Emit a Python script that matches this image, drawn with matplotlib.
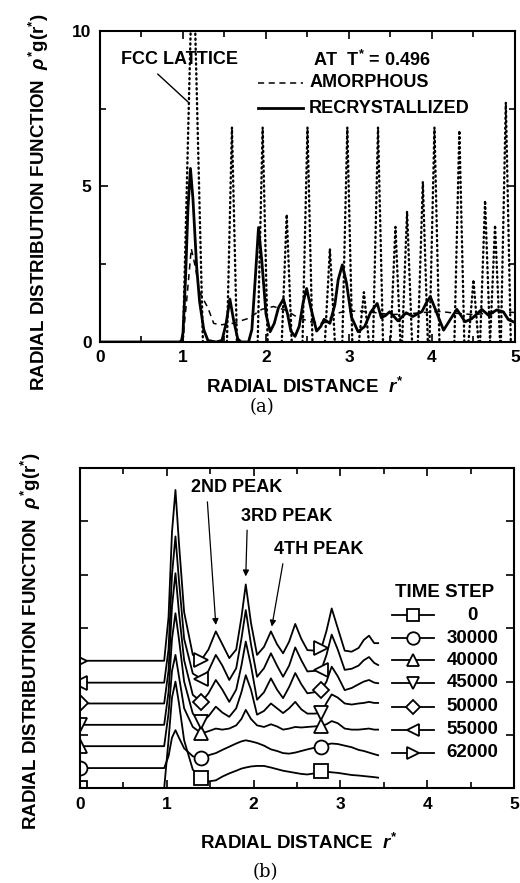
import numpy as np
import matplotlib
matplotlib.use("Agg")
import matplotlib.pyplot as plt

plt.rcParams["font.family"] = ["Liberation Sans", "DejaVu Sans"]
plt.rcParams["font.weight"] = "bold"
plt.rcParams["mathtext.fontset"] = "custom"
plt.rcParams["mathtext.rm"] = "Liberation Sans:bold"
plt.rcParams["mathtext.it"] = "Liberation Sans:italic:bold"
plt.rcParams["mathtext.bf"] = "Liberation Sans:bold"

# ---- panel (a) data ----
# FCC lattice peaks: centre, height, half width
fcc_r = [1.12, 1.59, 1.96, 2.25, 2.50, 2.77, 2.98, 3.18, 3.35, 3.56,
         3.70, 3.89, 4.03, 4.33, 4.50, 4.64, 4.76, 4.89]
fcc_h = [13.0, 6.9, 6.9, 4.1, 6.9, 3.0, 6.9, 1.6, 6.9, 3.7,
         4.2, 5.15, 6.9, 6.8, 2.0, 4.55, 3.76, 7.7]
fcc_hw = [0.12] + [0.06] * 17

amor_r = [0.95, 1.0, 1.05, 1.1, 1.15, 1.2, 1.3, 1.37, 1.45, 1.6, 1.79,
          1.95, 2.09, 2.23, 2.37, 2.53, 2.69, 2.85, 2.93, 3.1, 3.3, 3.5,
          3.7, 3.9, 4.1, 4.3, 4.5, 4.7, 4.9, 5.0]
amor_g = [0.0, 0.1, 1.5, 3.0, 2.4, 1.6, 1.1, 0.6, 0.55, 0.6, 0.76,
          1.05, 1.14, 1.03, 0.81, 0.65, 0.6, 0.92, 0.97, 1.0, 0.95, 0.88,
          0.9, 0.95, 0.98, 0.92, 0.88, 0.93, 0.96, 0.95]

rec_r = [0, 0.98, 1.0, 1.03, 1.06, 1.09, 1.12, 1.165, 1.2, 1.25, 1.3, 1.4,
         1.47, 1.52, 1.565, 1.61, 1.66, 1.7, 1.79, 1.83, 1.87, 1.91, 1.95,
         2.0, 2.05, 2.1, 2.15, 2.21, 2.26, 2.3, 2.35, 2.4, 2.45, 2.49, 2.54,
         2.61, 2.66, 2.7, 2.77, 2.83, 2.87, 2.92, 2.97, 3.03, 3.11, 3.19,
         3.26, 3.34, 3.39, 3.44, 3.49, 3.59, 3.69, 3.77, 3.88, 3.93, 3.98,
         4.06, 4.14, 4.22, 4.3, 4.4, 4.48, 4.6, 4.68, 4.78, 4.86, 4.92, 4.98]
rec_g = [0, 0, 0.3, 2.0, 4.3, 5.58, 4.6, 2.4, 1.3, 0.4, 0.05, 0.0,
         0.05, 0.6, 1.38, 0.7, 0.1, 0.0, 0.0, 0.4, 2.0, 3.68, 2.6,
         0.9, 0.33, 0.6, 1.1, 1.38, 0.9, 0.35, 0.18, 0.5, 1.3, 1.72, 1.1,
         0.35, 0.5, 0.73, 0.6, 1.2, 2.0, 2.48, 1.9, 0.8, 0.33, 0.5,
         0.95, 1.24, 0.78, 0.85, 0.97, 0.68, 0.94, 0.82, 0.98, 1.25, 1.46,
         0.92, 0.38, 0.72, 1.05, 0.65, 0.75, 1.05, 0.86, 1.03, 0.97, 0.72, 0.65]

# ---- panel (b) data ----
time_steps = ["0", "30000", "40000", "45000", "50000", "55000", "62000"]
step_markers = ["s", "o", "^", "v", "D", "<", ">"]
marker_r = [0, 1.4, 2.78]

rb = [0, 0.97, 1.02, 1.06, 1.1, 1.14, 1.2, 1.3, 1.4, 1.48, 1.565, 1.64,
      1.72, 1.8, 1.86, 1.91, 1.97, 2.04, 2.12, 2.2, 2.27, 2.34, 2.41, 2.48,
      2.55, 2.62, 2.7, 2.78, 2.84, 2.9, 2.97, 3.05, 3.13, 3.21, 3.27, 3.33,
      3.39, 3.435]
g_0 = [0, 0, 0.9, 1.7, 2.0, 1.6, 0.9, 0.35, 0.19, 0.13, 0.15, 0.22,
       0.28, 0.33, 0.37, 0.39, 0.41, 0.42, 0.42, 0.39, 0.36, 0.33, 0.31, 0.29,
       0.27, 0.26, 0.28, 0.32, 0.31, 0.3, 0.29, 0.27, 0.25, 0.24, 0.23, 0.22,
       0.21, 0.2]
g_30000 = [0.38, 0.38, 0.6, 0.95, 1.09, 0.95, 0.75, 0.6, 0.56, 0.62, 0.66, 0.72,
           0.78, 0.84, 0.88, 0.9, 0.88, 0.85, 0.8, 0.73, 0.7, 0.66, 0.65, 0.67,
           0.7, 0.73, 0.76, 0.78, 0.82, 0.84, 0.83, 0.8, 0.77, 0.72, 0.7, 0.67,
           0.64, 0.62]
g_40000 = [0.79, 0.79, 1.4, 2.2, 2.5, 2.1, 1.5, 1.15, 1.03, 1.07, 1.12, 1.1,
           1.12, 1.18, 1.3, 1.47, 1.3, 1.18, 1.15, 1.2, 1.16, 1.1, 1.12, 1.15,
           1.14, 1.15, 1.16, 1.17, 1.2, 1.26, 1.22, 1.12, 1.1, 1.1, 1.11, 1.12,
           1.1, 1.1]
g_45000 = [1.19, 1.19, 1.8, 2.8, 3.28, 2.8, 2.0, 1.4, 1.25, 1.35, 1.53, 1.42,
           1.34, 1.5, 1.8, 2.12, 1.85, 1.38, 1.45, 1.59, 1.5, 1.41, 1.5, 1.62,
           1.48, 1.4, 1.4, 1.41, 1.6, 1.76, 1.7, 1.59, 1.57, 1.59, 1.6, 1.62,
           1.6, 1.6]
g_50000 = [1.59, 1.59, 2.2, 3.4, 4.03, 3.3, 2.4, 1.75, 1.62, 1.78, 2.03, 1.85,
           1.62, 1.85, 2.3, 2.75, 2.3, 1.66, 1.8, 2.06, 1.85, 1.69, 1.9, 2.16,
           1.95, 1.78, 1.8, 1.84, 2.0, 2.28, 2.1, 1.84, 1.88, 1.95, 2.0, 2.03,
           1.98, 1.97]
g_55000 = [1.98, 1.98, 2.6, 4.0, 4.72, 3.9, 2.8, 2.15, 2.05, 2.2, 2.5, 2.3,
           2.03, 2.25, 2.8, 3.34, 2.7, 2.09, 2.25, 2.53, 2.3, 2.09, 2.3, 2.64,
           2.4, 2.19, 2.2, 2.22, 2.5, 2.88, 2.6, 2.22, 2.24, 2.3, 2.4, 2.46,
           2.35, 2.31]
g_62000 = [2.39, 2.39, 3.2, 4.8, 5.59, 4.6, 3.3, 2.5, 2.41, 2.6, 2.94, 2.7,
           2.44, 2.6, 3.2, 3.82, 3.1, 2.5, 2.65, 2.94, 2.7, 2.53, 2.75, 3.08,
           2.8, 2.59, 2.58, 2.62, 2.95, 3.37, 3.0, 2.58, 2.56, 2.63, 2.78, 2.86,
           2.72, 2.72]
curves_b = [g_0, g_30000, g_40000, g_45000, g_50000, g_55000, g_62000]

fig = plt.figure(figsize=(5.2, 8.83), dpi=100)

# ================= panel (a) =================
ax1 = fig.add_axes([0.1923, 0.6127, 0.798, 0.3522])

for c, h, hw in zip(fcc_r, fcc_h, fcc_hw):
    ax1.plot([c - hw, c, c + hw], [0, h, 0], color="k", lw=1.7,
             linestyle=(0, (0.5, 1.6)), dash_capstyle="round")

ax1.plot(amor_r, amor_g, color="k", lw=1.1, linestyle=(0, (4, 3)))
ax1.plot(rec_r, rec_g, color="k", lw=2.0)

ax1.set_xlim(0, 5)
ax1.set_ylim(0, 10)
ax1.set_xticks(range(6))
ax1.set_xticks(np.arange(0.5, 5, 1.0), minor=True)
ax1.set_yticks([0, 5, 10])
ax1.set_yticks([2.5, 7.5], minor=True)
ax1.tick_params(which="both", direction="in", top=True, right=True,
                labelsize=12.5, width=1.2)
ax1.tick_params(which="major", length=6, pad=6)
ax1.tick_params(which="minor", length=4)
for s in ax1.spines.values():
    s.set_linewidth(1.5)

ax1.annotate("FCC LATTICE", xy=(1.06, 7.72), xytext=(0.96, 9.07),
             ha="center", va="center", fontsize=13,
             arrowprops=dict(arrowstyle="-", color="k", lw=1.0,
                             relpos=(0.26, 0.0), shrinkA=3, shrinkB=0))
ax1.text(3.27, 9.07, "AT  T$^{*}$ = 0.496", ha="center", va="center",
         fontsize=13)
ax1.plot([1.9, 2.45], [8.33, 8.33], color="k", lw=1.1,
         linestyle=(0, (4, 3)))
ax1.text(2.52, 8.33, "AMORPHOUS", ha="left", va="center", fontsize=13)
ax1.plot([1.9, 2.45], [7.52, 7.52], color="k", lw=2.0)
ax1.text(2.52, 7.52, "RECRYSTALLIZED", ha="left", va="center", fontsize=13)

fig.text(305 / 520, 1 - 387 / 883, "RADIAL DISTANCE  $r^{*}$",
         ha="center", va="center", fontsize=13.5)
fig.text(39 / 520, 1 - 202 / 883,
         r"RADIAL DISTRIBUTION FUNCTION  $\rho^{*}$g(r$^{*}$)",
         rotation=90, ha="center", va="center", fontsize=13.5)
fig.text(262 / 520, 1 - 407 / 883, "(a)", ha="center", va="center",
         fontsize=13, family="DejaVu Serif", weight="normal")

# ================= panel (b) =================
ax2 = fig.add_axes([0.1538, 0.1072, 0.8346, 0.3627])

mark_idx = [rb.index(v) for v in marker_r]
for g, m in zip(curves_b, step_markers):
    ax2.plot(rb, g, color="k", lw=1.3, marker=m, markevery=mark_idx,
             ms=10 if m != "D" else 8.5, mfc="white", mec="k", mew=1.3)

ax2.set_xlim(0, 5)
ax2.set_ylim(0, 6)
ax2.set_xticks(range(6))
ax2.set_xticks(np.arange(0.5, 5, 1.0), minor=True)
ax2.set_yticks(range(7))
ax2.set_yticklabels([])
ax2.tick_params(which="both", direction="in", top=True, right=True,
                labelsize=12.5, width=1.2)
ax2.tick_params(which="major", length=6, pad=6)
ax2.tick_params(which="minor", length=4)
for s in ax2.spines.values():
    s.set_linewidth(1.5)

arrow_kw = dict(arrowstyle="-|>", color="k", lw=0.9, mutation_scale=9,
                shrinkA=2, shrinkB=0)
ax2.annotate("2ND PEAK", xy=(1.565, 3.06), xytext=(1.80, 5.63),
             ha="center", va="center", fontsize=13,
             arrowprops=dict(relpos=(0.18, 0.0), **arrow_kw))
ax2.annotate("3RD PEAK", xy=(1.91, 3.97), xytext=(2.38, 5.10),
             ha="center", va="center", fontsize=13,
             arrowprops=dict(relpos=(0.07, 0.0), **arrow_kw))
ax2.annotate("4TH PEAK", xy=(2.21, 3.03), xytext=(2.75, 4.47),
             ha="center", va="center", fontsize=13,
             arrowprops=dict(relpos=(0.11, 0.0), **arrow_kw))

# legend drawn by hand
ax2.text(0.84, 0.6125, "TIME STEP", transform=ax2.transAxes,
         ha="center", va="center", fontsize=13.5)
leg_y = [0.54, 0.468, 0.40, 0.33, 0.255, 0.183, 0.111]
for yy, lab, m in zip(leg_y, time_steps, step_markers):
    ax2.plot([0.72, 0.815], [yy, yy], transform=ax2.transAxes, color="k",
             lw=1.3, clip_on=False)
    ax2.plot([0.767], [yy], transform=ax2.transAxes, marker=m,
             ms=9 if m != "D" else 7.5, mfc="white", mec="k", mew=1.3,
             clip_on=False)
    ax2.text(0.905, yy, lab, transform=ax2.transAxes, ha="center",
             va="center", fontsize=13.5)

fig.text(299 / 520, 1 - 843 / 883, "RADIAL DISTANCE  $r^{*}$",
         ha="center", va="center", fontsize=13.5)
fig.text(31 / 520, 1 - 641 / 883,
         r"RADIAL DISTRIBUTION FUNCTION  $\rho^{*}$g(r$^{*}$)",
         rotation=90, ha="center", va="center", fontsize=13.5)
fig.text(265 / 520, 1 - 872 / 883, "(b)", ha="center", va="center",
         fontsize=13, family="DejaVu Serif", weight="normal")

fig.savefig("out.png", dpi=100)
